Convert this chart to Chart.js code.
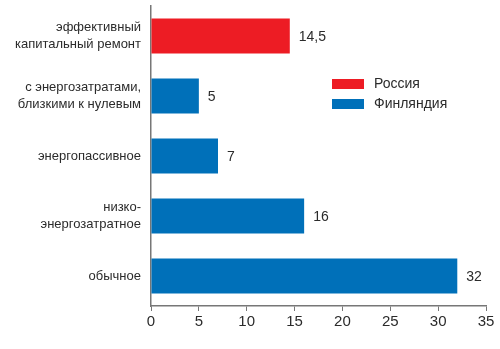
<!DOCTYPE html>
<html>
<head>
<meta charset="utf-8">
<script src="https://cdn.jsdelivr.net/npm/chart.js@4"></script>
<style>
  html, body { margin: 0; padding: 0; background: #fff; }
  #wrap { width: 500px; height: 349px; position: relative; }
</style>
</head>
<body>
<div id="wrap"><canvas id="chart"></canvas></div>
<script>
// данные
const categories = [
    ['эффективный', 'капитальный ремонт'],
    ['с энергозатратами,', 'близкими к нулевым'],
    'энергопассивное',
    ['низко-', 'энергозатратное'],
    'обычное'
];
const russiaValues = [14.5, null, null, null, null];
const finlandValues = [null, 5, 7, 16, 32];
const xTicks = [0, 5, 10, 15, 20, 25, 30, 35];
const seriesNames = ['Россия', 'Финляндия'];

const colors = ['#ED1C24', '#0070B9'];
const textColor = '#2b2b2b';
const fontFamily = '"Liberation Sans", Arial, sans-serif';

// подписи значений справа от столбцов
const valueLabels = {
    id: 'valueLabels',
    afterDatasetsDraw(chart) {
        const ctx = chart.ctx;
        ctx.save();
        ctx.font = '14px ' + fontFamily;
        ctx.fillStyle = textColor;
        ctx.textAlign = 'left';
        ctx.textBaseline = 'middle';
        chart.data.datasets.forEach((ds, di) => {
            const meta = chart.getDatasetMeta(di);
            meta.data.forEach((bar, i) => {
                const v = ds.data[i];
                if (v === null) return;
                ctx.fillText(String(v).replace('.', ','), bar.x + 9, bar.y + 1);
            });
        });
        ctx.restore();
    }
};

// легенда внутри области графика
const boxLegend = {
    id: 'boxLegend',
    afterDraw(chart) {
        const ctx = chart.ctx;
        ctx.save();
        ctx.font = '14px ' + fontFamily;
        ctx.textBaseline = 'middle';
        seriesNames.forEach((name, i) => {
            const y = 79 + i * 20;
            ctx.fillStyle = colors[i];
            ctx.fillRect(332, y, 32, 10);
            ctx.fillStyle = textColor;
            ctx.fillText(name, 374, y + 5);
        });
        ctx.restore();
    }
};

new Chart(document.getElementById('chart'), {
    type: 'bar',
    data: {
        labels: categories,
        datasets: [
            { label: seriesNames[0], data: russiaValues, backgroundColor: colors[0] },
            { label: seriesNames[1], data: finlandValues, backgroundColor: colors[1] }
        ]
    },
    plugins: [valueLabels, boxLegend],
    options: {
        indexAxis: 'y',
        responsive: true,
        maintainAspectRatio: false,
        animation: false,
        layout: { padding: { top: 6, right: 14, left: 0, bottom: 0 } },
        datasets: {
            bar: { grouped: false, categoryPercentage: 1, barPercentage: 0.58 }
        },
        plugins: {
            legend: { display: false },
            tooltip: { enabled: false }
        },
        scales: {
            x: {
                min: 0,
                max: 35,
                afterBuildTicks: (scale) => { scale.ticks = xTicks.map(v => ({ value: v })); },
                afterFit: (scale) => {
                    scale.height = 43;
                    scale.paddingLeft = 0;
                    scale.paddingRight = 0;
                },
                grid: { drawOnChartArea: false, drawTicks: true, tickLength: 5, color: '#777' },
                border: { color: '#777', width: 1.5 },
                ticks: { color: textColor, font: { family: fontFamily, size: 15 }, padding: 2 }
            },
            y: {
                afterFit: (scale) => {
                    scale.width = 151;
                    scale.paddingTop = 0;
                    scale.paddingBottom = 0;
                },
                grid: { display: false },
                border: { color: '#777', width: 1.5 },
                ticks: { color: textColor, font: { family: fontFamily, size: 13, lineHeight: 1.3 }, padding: 2 }
            }
        }
    }
});
</script>
</body>
</html>
